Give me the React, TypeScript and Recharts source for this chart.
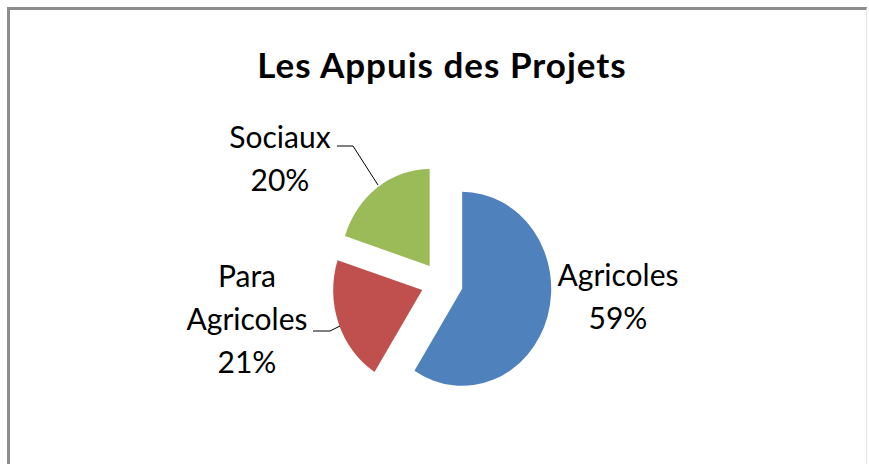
import React from "react";
import { Pie, PieChart } from "recharts";

const categories = ["Agricoles", "Para Agricoles", "Sociaux"];
const shares = [59, 21, 20];
const sliceColors = ["#4F81BD", "#C0504D", "#9BBB59"];

// label text lines per slice (Excel wraps "Para Agricoles")
const labelLines = [["Agricoles", "59%"], ["Para", "Agricoles", "21%"], ["Sociaux", "20%"]];

// layout only: label centre x / first baseline, and leader polylines
const labelSpots = [
  { x: 618, y: 286, leader: null as number[][] | null },
  { x: 247, y: 287, leader: [[313, 331], [330, 331], [340, 326]] },
  { x: 280, y: 148, leader: [[337, 146], [353, 146], [378, 185]] },
];

const data = categories.map((name, i) => ({ name, value: shares[i], fill: sliceColors[i] }));

const FONT = "Lato, 'Noto Sans', sans-serif";
const X_SQUASH = 0.918; // the original pie is a bit narrower than tall
const EXPLODE = 21;

const RAD = Math.PI / 180;

function ExplodedSlice(props: any) {
  const { cx, cy, outerRadius, startAngle, endAngle, midAngle, fill } = props;
  const ox = cx + EXPLODE * Math.cos(-midAngle * RAD);
  const oy = cy + EXPLODE * Math.sin(-midAngle * RAD);
  const rx = outerRadius * X_SQUASH;
  const ry = outerRadius;
  const pt = (a: number) => [ox + rx * Math.cos(-a * RAD), oy + ry * Math.sin(-a * RAD)];
  const [x1, y1] = pt(startAngle);
  const [x2, y2] = pt(endAngle);
  const large = Math.abs(startAngle - endAngle) > 180 ? 1 : 0;
  const d = `M${ox},${oy} L${x1},${y1} A${rx},${ry} 0 ${large} 1 ${x2},${y2} Z`;
  return <path d={d} fill={fill} stroke="none" />;
}

function SliceLabel(props: any) {
  const i = props.index;
  const spot = labelSpots[i];
  return (
    <g>
      {spot.leader && (
        <polyline
          points={spot.leader.map((p) => p.join(",")).join(" ")}
          fill="none"
          stroke="#000"
          strokeWidth={1}
        />
      )}
      {labelLines[i].map((t, k) => (
        <text
          key={k}
          x={spot.x}
          y={spot.y + k * 43}
          textAnchor="middle"
          fontFamily={FONT}
          fontSize={30}
          fill="#000"
        >
          {t}
        </text>
      ))}
    </g>
  );
}

export default function App() {
  return (
    <div style={{ position: "absolute", left: 0, top: 0, width: 869, height: 464, background: "#fff" }}>
      <div
        style={{
          position: "absolute",
          left: 7,
          top: 7,
          width: 860,
          height: 457,
          borderTop: "3px solid #8c8c8c",
          borderLeft: "3px solid #8c8c8c",
          borderRight: "1px solid #e4e4e4",
          boxSizing: "border-box",
        }}
      />
      <PieChart width={869} height={464} margin={{ top: 0, right: 0, bottom: 0, left: 0 }}>
        <text
          x={442}
          y={78}
          textAnchor="middle"
          fontFamily={FONT}
          fontWeight={700}
          fontSize={35}
          letterSpacing={1}
          fill="#000"
        >
          Les Appuis des Projets
        </text>
        <Pie
          data={data}
          dataKey="value"
          nameKey="name"
          cx={442}
          cy={283}
          outerRadius={97}
          startAngle={90}
          endAngle={-270}
          stroke="none"
          label={SliceLabel}
          labelLine={false}
          shape={ExplodedSlice}
          activeShape={ExplodedSlice}
          inactiveShape={ExplodedSlice}
          isAnimationActive={false}
        />
      </PieChart>
    </div>
  );
}
